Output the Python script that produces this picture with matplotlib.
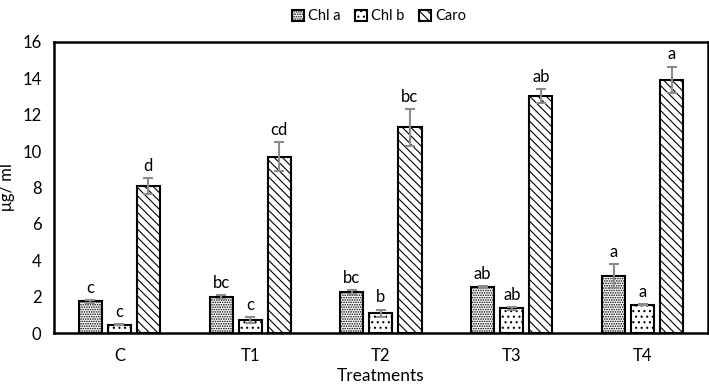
import matplotlib
matplotlib.use("Agg")
import matplotlib.pyplot as plt
import numpy as np

plt.rcParams['font.family'] = ['Lato', 'DejaVu Sans']
plt.rcParams['hatch.linewidth'] = 0.8

categories = ["C", "T1", "T2", "T3", "T4"]
series_names = ["Chl a", "Chl b", "Caro"]
chl_a = [1.74, 1.98, 2.26, 2.55, 3.13]
chl_b = [0.46, 0.72, 1.09, 1.35, 1.56]
caro = [8.08, 9.70, 11.30, 13.03, 13.93]
chl_a_err = [0.08, 0.10, 0.12, 0.05, 0.65]
chl_b_err = [0.03, 0.15, 0.20, 0.08, 0.04]
caro_err = [0.42, 0.78, 1.00, 0.40, 0.72]
chl_a_letters = ["c", "bc", "bc", "ab", "a"]
chl_b_letters = ["c", "c", "b", "ab", "a"]
caro_letters = ["d", "cd", "bc", "ab", "a"]

fig = plt.figure(figsize=(7.09, 3.87), dpi=100)
ax = fig.add_axes([0.076, 0.1395, 0.9226, 0.752])

x = np.arange(len(categories))
width = 0.176
step = 0.222
hatches = ['.......', '...', '\\\\\\\\']
vals = [chl_a, chl_b, caro]
errs = [chl_a_err, chl_b_err, caro_err]
letters = [chl_a_letters, chl_b_letters, caro_letters]

for i in range(3):
    pos = x + (i - 1) * step
    ax.bar(pos, vals[i], width, color='white', edgecolor='black', linewidth=1.5,
           hatch=hatches[i], label=series_names[i], zorder=2)
    ax.errorbar(pos, vals[i], yerr=errs[i], fmt='none', ecolor='#8c8c8c',
                elinewidth=1.5, capsize=3.5, capthick=1.5, zorder=3)
    for p, v, e, t in zip(pos, vals[i], errs[i], letters[i]):
        ax.annotate(t, (p, v + e), xytext=(0, 3), textcoords='offset points',
                    ha='center', va='bottom', fontsize=12)

ax.set_xlim(-0.5, len(categories) - 0.5)
ax.set_ylim(0, 16)
ax.set_yticks(np.arange(0, 17, 2))
ax.set_xticks(x)
ax.set_xticklabels(categories)
ax.tick_params(axis='both', length=0, labelsize=12)
ax.tick_params(axis='x', pad=11)
ax.tick_params(axis='y', pad=9)
for s in ax.spines.values():
    s.set_linewidth(1.8)
    s.set_color('black')

ax.set_xlabel("Treatments", fontsize=12.5, labelpad=3)
ax.set_ylabel("μg/ ml", fontsize=12, labelpad=5)

fig.legend(loc='upper center', bbox_to_anchor=(0.535, 1.01), ncol=3, frameon=False,
           fontsize=10.5, handlelength=0.8, handleheight=0.8, handletextpad=0.3,
           columnspacing=1.0)

fig.savefig("out.png", dpi=100)
